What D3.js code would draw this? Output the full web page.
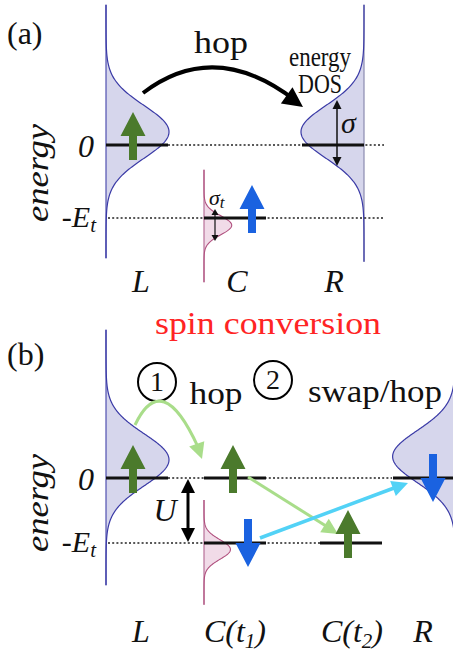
<!DOCTYPE html>
<html lang="en">
<head>
<meta charset="UTF-8">
<title>spin conversion</title>
<script src="https://d3js.org/d3.v7.min.js"></script>
<style>
  body { margin: 0; background: #fff; }
  svg text { fill: #111; }
  .it { font-style: italic; }
  .dos { stroke: #3a3aa6; stroke-width: 1.2px; fill: none; }
  .dosfill { fill: #d6d6ec; stroke: none; }
  .cdos { stroke: #b0507e; stroke-width: 1.1px; fill: none; }
  .cdosfill { fill: #f1dbe8; stroke: none; }
  .level { stroke: #111; stroke-width: 3.2px; }
  .dot { stroke: #222; stroke-width: 1.4px; stroke-dasharray: 2 2.2; }
</style>
</head>
<body>
<svg width="453" height="657"></svg>
<script>
// energies in units of E_t (0 and -E_t)
var levelE = [0, -1];
var sitesA = ["L", "C", "R"];
var sitesB = ["L", "C(t1)", "C(t2)", "R"];

// density of states: centre, width, peak height (relative)
var dosA = [
  {site: "L", e0: 0.18, sigma: 0.36, peak: 1.0},
  {site: "C", e0: -1.10, sigma: 0.13, peak: 0.44},
  {site: "R", e0: 0.18, sigma: 0.36, peak: 1.0}
];
var dosB = [
  {site: "L", e0: 0.28, sigma: 0.40, peak: 1.0},
  {site: "C(t1)", e0: -1.10, sigma: 0.15, peak: 0.42},
  {site: "R", e0: 0.33, sigma: 0.40, peak: 0.99}
];

// occupied levels and spins
var levelsA = [{site: "L", e: 0}, {site: "C", e: -1}, {site: "R", e: 0}];
var levelsB = [{site: "L", e: 0}, {site: "C(t1)", e: 0}, {site: "C(t1)", e: -1},
               {site: "C(t2)", e: -1}, {site: "R", e: 0}];
var spinsA = [{site: "L", e: 0, up: true, kind: "g"}, {site: "C", e: -1, up: true, kind: "b"}];
var spinsB = [{site: "L", e: 0, up: true, kind: "g"}, {site: "C(t1)", e: 0, up: true, kind: "g"},
              {site: "C(t1)", e: -1, up: false, kind: "b"}, {site: "C(t2)", e: -1, up: true, kind: "g"},
              {site: "R", e: 0, up: false, kind: "b"}];

var svg = d3.select("svg");
var serif = "Liberation Serif";
var spinCol = {g: "#4b7a2c", b: "#1a62e0"};

var yA = d3.scaleLinear().domain([0, -1]).range([145, 218]);
var yB = d3.scaleLinear().domain([0, -1]).range([478, 543]);
var xA = d3.scaleOrdinal(sitesA, [106, 204, 364]);
var xB = d3.scaleOrdinal(sitesB, [106, 204, 320, 455]);
var amp = d3.scaleLinear().domain([0, 1]).range([0, 63]);

// which way things open from the site axis
function side(s) { return s == "R" ? -1 : 1; }
// spin x offset from the site axis
var spinDx = {"L": 27, "C": 48, "R": -22, "C(t1)": 29, "C(t2)": 28};
var spinDx2 = {"C(t1)": 44};

// serif face only came out between 28 and 32px here, so sizes stay in that band
// and textLength stretches/squeezes words to the reference width
function txt(g, x, y, size, s, anchor, it, len) {
  var t = g.append("text").attr("x", x).attr("y", y).attr("font-family", serif)
    .attr("font-size", size).attr("text-anchor", anchor || "start").text(s);
  if (it) t.attr("class", "it");
  if (len) t.attr("textLength", len).attr("lengthAdjust", "spacingAndGlyphs");
  return t;
}

function drawDos(g, dos, x, y, span) {
  dos.forEach(function(d) {
    var isC = d.site.charAt(0) == "C";
    var ext = span[d.site];
    var pts = d3.range(ext[0], ext[1], -0.01).concat([ext[1]]);
    var f = function(e) { return x(d.site) + side(d.site) * amp(d.peak * Math.exp(-(e - d.e0) * (e - d.e0) / (2 * d.sigma * d.sigma))); };
    g.append("path").attr("class", isC ? "cdosfill" : "dosfill")
      .attr("d", d3.area().y(e => y(e)).x0(x(d.site)).x1(f)(pts));
    g.append("line").attr("x1", x(d.site)).attr("x2", x(d.site))
      .attr("y1", y(ext[0])).attr("y2", y(ext[1]))
      .style("stroke", isC ? "#b87098" : (d.site == "R" ? "#8a8ab0" : "#5050b0")).style("stroke-width", 1.2);
    g.append("path").attr("class", isC ? "cdos" : "dos")
      .attr("d", d3.line().y(e => y(e)).x(f)(pts));
  });
}

function drawDots(g, y, spans) {
  spans.forEach(function(s) {
    g.append("line").attr("class", "dot").attr("x1", s[1]).attr("x2", s[2])
      .attr("y1", y(s[0])).attr("y2", y(s[0]));
  });
}

function drawLevels(g, levels, x, y) {
  g.selectAll(null).data(levels).enter().append("line").attr("class", "level")
    .attr("x1", d => x(d.site)).attr("x2", d => x(d.site) + side(d.site) * 62)
    .attr("y1", d => y(d.e)).attr("y2", d => y(d.e));
}

function spinPath(cx, y0, up) {
  var dir = up ? -1 : 1;
  var tail = y0 - dir * (up ? 15 : 24), tip = y0 + dir * (up ? 33 : 24);
  var hb = tip - dir * 24;
  return "M" + (cx - 4) + "," + tail + "L" + (cx - 4) + "," + hb + "L" + (cx - 12.5) + "," + hb +
    "L" + cx + "," + tip + "L" + (cx + 12.5) + "," + hb + "L" + (cx + 4) + "," + hb +
    "L" + (cx + 4) + "," + tail + "Z";
}

function drawSpins(g, spins, x, y) {
  spins.forEach(function(d) {
    var dx = (!d.up && spinDx2[d.site]) ? spinDx2[d.site] : spinDx[d.site];
    g.append("path").attr("d", spinPath(x(d.site) + dx, y(d.e), d.up)).style("fill", spinCol[d.kind]);
  });
}

function arrowHead(g, x1, y1, x2, y2, len, hw, col) {
  var a = Math.atan2(y2 - y1, x2 - x1), c = Math.cos(a), s = Math.sin(a);
  var bx = x2 - len * c, by = y2 - len * s;
  g.append("path").attr("d", "M" + x2 + "," + y2 + "L" + (bx - hw * s) + "," + (by + hw * c) +
    "L" + (bx + hw * s) + "," + (by - hw * c) + "Z").style("fill", col);
}

function siteLabel(g, s, sub, x, y) {
  if (!sub) { txt(g, x, y, 32, s, "middle", true); return; }
  var t = txt(g, x, y, 32, null, "middle", true);
  t.append("tspan").text("C(t");
  t.append("tspan").text(sub).attr("dy", 6).attr("font-size", 21);
  t.append("tspan").text(")").attr("dy", -6);
}

function leftAxis(g, y, ymid) {
  txt(g, 0, 0, 32, "energy", "middle", true, 98).attr("x", null).attr("y", null)
    .attr("transform", "translate(48," + ymid + ") rotate(-90)");
  txt(g, 94, y(levelE[0]) + 12, 32, "0", "end", true);
  var t = txt(g, 96, y(levelE[1]) + 9, 30, null, "end", true);
  t.append("tspan").text("-E");
  t.append("tspan").text("t").attr("dy", 5).attr("font-size", 21);
}

// ---------- panel (a) ----------
var ga = svg.append("g");
drawDos(ga, dosA, xA, yA, {"L": [1.92, -1.55], "C": [-0.34, -1.88], "R": [1.92, -1.6]});
drawDots(ga, yA, [[0, 168, 384], [-1, 108, 384]]);
drawLevels(ga, levelsA, xA, yA);
drawSpins(ga, spinsA, xA, yA);

txt(ga, 7, 44, 32, "(a)");
leftAxis(ga, yA, 173);
txt(ga, 221, 53, 32, "hop", "middle", false, 54);
txt(ga, 320, 66, 28, "energy", "middle", false, 62);
txt(ga, 320, 93, 28, "DOS", "middle", false, 44);

// hop arc L -> R
ga.append("path").attr("d", "M143,93Q215,38 296,101").style("fill", "none")
  .style("stroke", "#000").style("stroke-width", 4);
arrowHead(ga, 272, 85, 303, 107, 20, 10, "#000");

// sigma of R
ga.append("line").attr("x1", 337).attr("x2", 337).attr("y1", 104).attr("y2", 162)
  .style("stroke", "#111").style("stroke-width", 1.5);
arrowHead(ga, 337, 120, 337, 100, 9, 4.5, "#111");
arrowHead(ga, 337, 150, 337, 166, 9, 4.5, "#111");
txt(ga, 341, 133, 30, "σ", "start", true);

// sigma_t of C
ga.append("line").attr("x1", 215).attr("x2", 215).attr("y1", 213).attr("y2", 238)
  .style("stroke", "#111").style("stroke-width", 1.2);
arrowHead(ga, 215, 220, 215, 209, 6, 3.5, "#111");
arrowHead(ga, 215, 232, 215, 241, 6, 3.5, "#111");
var st = txt(ga, 209, 205, 22, null, "start", true);
st.append("tspan").text("σ");
st.append("tspan").text("t").attr("dy", 3).attr("font-size", 17);

siteLabel(ga, "L", null, 141, 292);
siteLabel(ga, "C", null, 237, 292);
siteLabel(ga, "R", null, 334, 292);

// ---------- panel (b) ----------
var gb = svg.append("g");
txt(gb, 268, 334, 32, "spin conversion", "middle", false, 226).style("fill", "#ff2424");
drawDos(gb, dosB, xB, yB, {"L": [2.28, -1.65], "C(t1)": [-0.34, -1.95], "R": [2.28, -1.65]});
drawDots(gb, yB, [[0, 168, 392], [-1, 108, 320]]);
drawLevels(gb, levelsB, xB, yB);

txt(gb, 7, 365, 32, "(b)");
leftAxis(gb, yB, 503);

// step labels
[[157, 382, "1"], [273, 380, "2"]].forEach(function(c) {
  gb.append("circle").attr("cx", c[0]).attr("cy", c[1]).attr("r", 19)
    .style("fill", "none").style("stroke", "#000").style("stroke-width", 2);
  txt(gb, c[0], c[1] + 9, 28, c[2], "middle");
});
txt(gb, 216, 404, 32, "hop", "middle", false, 53);
txt(gb, 375, 402, 32, "swap/hop", "middle", false, 134);

// U
gb.append("line").attr("x1", 188).attr("x2", 188).attr("y1", 488).attr("y2", 533)
  .style("stroke", "#000").style("stroke-width", 3);
arrowHead(gb, 188, 500, 188, 479, 14, 7, "#000");
arrowHead(gb, 188, 520, 188, 542, 14, 7, "#000");
txt(gb, 165, 521, 32, "U", "middle", true);

// transfer arrows
gb.append("path").attr("d", "M135,425Q162,368 198,447").style("fill", "none")
  .style("stroke", "#a9dd8a").style("stroke-width", 3);
arrowHead(gb, 194, 436, 202, 459, 16, 8, "#a9dd8a");
gb.append("line").attr("x1", 248).attr("y1", 477).attr("x2", 326).attr("y2", 526)
  .style("stroke", "#a9dd8a").style("stroke-width", 3);
arrowHead(gb, 248, 477, 338, 534, 16, 8, "#a9dd8a");
gb.append("line").attr("x1", 260).attr("y1", 538).attr("x2", 394).attr("y2", 488)
  .style("stroke", "#52d2f6").style("stroke-width", 3.5);
arrowHead(gb, 260, 538, 408, 483, 16, 8, "#52d2f6");

drawSpins(gb, spinsB, xB, yB);

siteLabel(gb, "L", null, 141, 642);
siteLabel(gb, "C", "1", 235, 642);
siteLabel(gb, "C", "2", 352, 642);
siteLabel(gb, "R", null, 423, 642);
</script>
</body>
</html>
